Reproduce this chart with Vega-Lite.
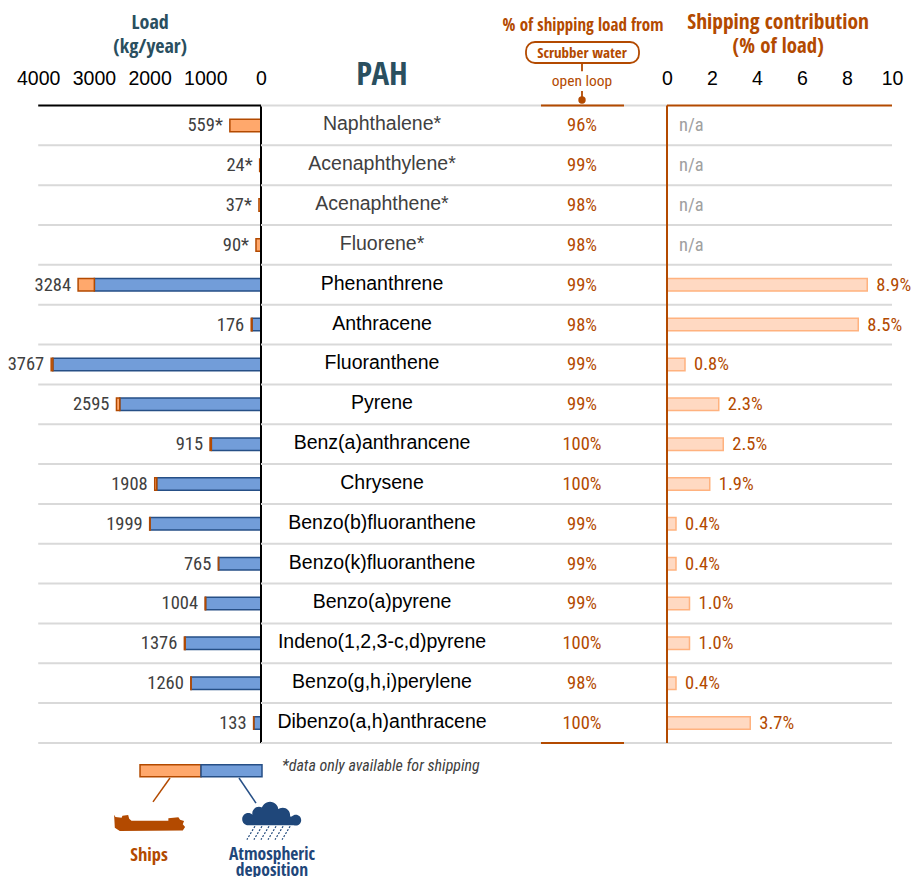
{
"$schema":"https://vega.github.io/schema/vega-lite/v6.json",
"padding":0,"spacing":0,"bounds":"flush","background":"white",
"config":{"view":{"stroke":null},"concat":{"spacing":0}},
"datasets":{
"rows":[
{"row":0,"name":"Naphthalene*","total":559,"atmos":0,"label":"559*","scrubber":"96%"},
{"row":1,"name":"Acenaphthylene*","total":24,"atmos":0,"label":"24*","scrubber":"99%"},
{"row":2,"name":"Acenaphthene*","total":37,"atmos":0,"label":"37*","scrubber":"98%"},
{"row":3,"name":"Fluorene*","total":90,"atmos":0,"label":"90*","scrubber":"98%"},
{"row":4,"name":"Phenanthrene","total":3284,"atmos":2992,"label":"3284","scrubber":"99%","contrib":8.9,"contribLabel":"8.9%"},
{"row":5,"name":"Anthracene","total":176,"atmos":161,"label":"176","scrubber":"98%","contrib":8.5,"contribLabel":"8.5%"},
{"row":6,"name":"Fluoranthene","total":3767,"atmos":3737,"label":"3767","scrubber":"99%","contrib":0.8,"contribLabel":"0.8%"},
{"row":7,"name":"Pyrene","total":2595,"atmos":2535,"label":"2595","scrubber":"99%","contrib":2.3,"contribLabel":"2.3%"},
{"row":8,"name":"Benz(a)anthrancene","total":915,"atmos":892,"label":"915","scrubber":"100%","contrib":2.5,"contribLabel":"2.5%"},
{"row":9,"name":"Chrysene","total":1908,"atmos":1872,"label":"1908","scrubber":"100%","contrib":1.9,"contribLabel":"1.9%"},
{"row":10,"name":"Benzo(b)fluoranthene","total":1999,"atmos":1991,"label":"1999","scrubber":"99%","contrib":0.4,"contribLabel":"0.4%"},
{"row":11,"name":"Benzo(k)fluoranthene","total":765,"atmos":762,"label":"765","scrubber":"99%","contrib":0.4,"contribLabel":"0.4%"},
{"row":12,"name":"Benzo(a)pyrene","total":1004,"atmos":994,"label":"1004","scrubber":"99%","contrib":1.0,"contribLabel":"1.0%"},
{"row":13,"name":"Indeno(1,2,3-c,d)pyrene","total":1376,"atmos":1362,"label":"1376","scrubber":"100%","contrib":1.0,"contribLabel":"1.0%"},
{"row":14,"name":"Benzo(g,h,i)perylene","total":1260,"atmos":1255,"label":"1260","scrubber":"98%","contrib":0.4,"contribLabel":"0.4%"},
{"row":15,"name":"Dibenzo(a,h)anthracene","total":133,"atmos":128,"label":"133","scrubber":"100%","contrib":3.7,"contribLabel":"3.7%"}
],
"grid":[{"line":0.5},{"line":1.5},{"line":2.5},{"line":3.5},{"line":4.5},{"line":5.5},{"line":6.5},{"line":7.5},{"line":8.5},{"line":9.5},{"line":10.5},{"line":11.5},{"line":12.5},{"line":13.5},{"line":14.5},{"line":15.5}]
},
"hconcat":[
{
"width":261,"height":877,
"layer":[
{"data":{"name":"grid"},"mark":{"type":"rule","color":"#d9d9d9","strokeWidth":2},
 "encoding":{"y":{"field":"line","type":"quantitative","scale":{"domain":[-3.148,18.865],"reverse":true,"nice":false,"zero":false,"padding":0},"axis":null},
 "x":{"datum":4000,"type":"quantitative","scale":{"domain":[4686,0],"nice":false,"zero":false,"padding":0},
   "axis":{"orient":"top","offset":-105.5,"values":[0,1000,2000,3000,4000],"format":"d","domain":false,"ticks":false,"grid":false,"title":null,"labelFont":"Liberation Sans","labelFontSize":19.5,"labelColor":"#000000","labelPadding":17,"labelOverlap":false,"labelFlush":false,"labelAngle":0}},
 "x2":{"datum":0}}},
{"data":{"name":"rows"},"transform":[{"filter":"datum.atmos>0"}],"mark":{"type":"bar","orient":"horizontal","size":12.5,"color":"#729dd9","stroke":"#264f86","strokeWidth":1.5},
 "encoding":{"y":{"field":"row","type":"quantitative"},"x":{"field":"atmos","type":"quantitative"},"x2":{"datum":0}}},
{"data":{"name":"rows"},"mark":{"type":"bar","orient":"horizontal","size":12.5,"color":"#ffa86c","stroke":"#b34a00","strokeWidth":1.5},
 "encoding":{"y":{"field":"row","type":"quantitative"},"x":{"field":"total","type":"quantitative"},"x2":{"field":"atmos"}}},
{"data":{"name":"rows"},"mark":{"type":"text","align":"right","baseline":"middle","dx":-7,"font":"Roboto Condensed","fontSize":18.5,"color":"#404040"},
 "encoding":{"y":{"field":"row","type":"quantitative"},"x":{"field":"total","type":"quantitative"},"text":{"field":"label"}}},
{"data":{"values":[{"a":4000,"b":0,"r":-0.5,"r2":-0.5},{"a":0,"b":0,"r":-0.5,"r2":15.5}]},"mark":{"type":"rule","color":"#000000","strokeWidth":2},
 "encoding":{"y":{"field":"r","type":"quantitative"},"y2":{"field":"r2"},"x":{"field":"a","type":"quantitative"},"x2":{"field":"b"}}},
{"data":{"values":[{"t":"Load","x":1990,"r":-2.571},{"t":"(kg/year)","x":1990,"r":-1.968}]},"mark":{"type":"text","align":"center","baseline":"middle","font":"Open Sans Condensed","fontWeight":"bold","fontSize":20,"color":"#2a4f5f"},
 "encoding":{"y":{"field":"r","type":"quantitative"},"x":{"field":"x","type":"quantitative"},"text":{"field":"t"}}},
{"data":{"values":[{"x":2172,"x2":1077,"r":16.2}]},"mark":{"type":"bar","orient":"horizontal","size":12,"color":"#ffa86c","stroke":"#b34a00","strokeWidth":1.5},
 "encoding":{"y":{"field":"r","type":"quantitative"},"x":{"field":"x","type":"quantitative"},"x2":{"field":"x2"}}},
{"data":{"values":[{"x":1077,"x2":-18,"r":16.2}]},"mark":{"type":"bar","orient":"horizontal","size":12,"color":"#729dd9","stroke":"#264f86","strokeWidth":1.5},
 "encoding":{"y":{"field":"r","type":"quantitative"},"x":{"field":"x","type":"quantitative"},"x2":{"field":"x2"}}},
{"data":{"values":[{"x":1634,"x2":1939,"r":16.38,"r2":16.98}]},"mark":{"type":"rule","color":"#b34a00","strokeWidth":1.5},
 "encoding":{"y":{"field":"r","type":"quantitative"},"y2":{"field":"r2"},"x":{"field":"x","type":"quantitative"},"x2":{"field":"x2"}}},
{"data":{"values":[{"x":395,"x2":90,"r":16.38,"r2":17.01}]},"mark":{"type":"rule","color":"#264f86","strokeWidth":1.5},
 "encoding":{"y":{"field":"r","type":"quantitative"},"y2":{"field":"r2"},"x":{"field":"x","type":"quantitative"},"x2":{"field":"x2"}}},
{"data":{"values":[{"x":2000,"r":17.51}]},"mark":{"type":"point","filled":true,"opacity":1,"color":"#b34a00","size":5041,"shape":"M-1 -.236L-.962 -.17L-.79 -.15L-.764 -.208L-.604 -.226L-.575 -.123L-.51 -.066L.528 -.066L.528 -.132L.811 -.16L.858 -.094L.97 -.057L.934 .038L1 .113L.934 .208L-.84 .226L-.98 .132Z"},
 "encoding":{"y":{"field":"r","type":"quantitative"},"x":{"field":"x","type":"quantitative"}}},
{"data":{"values":[{"x":-192,"r":17.27}]},"mark":{"type":"point","filled":true,"opacity":1,"color":"#1f477a","size":3481,"shape":"M-1 .193a.205 .205 0 1 1 .41 0a.205 .205 0 1 1 -.41 0ZM-.659 0a.227 .227 0 1 1 .454 0a.227 .227 0 1 1 -.454 0ZM-.341 -.114a.284 .284 0 1 1 .568 0a.284 .284 0 1 1 -.568 0ZM.125 .057a.25 .25 0 1 1 .5 0a.25 .25 0 1 1 -.5 0ZM.636 .227a.182 .182 0 1 1 .364 0a.182 .182 0 1 1 -.364 0ZM-.795 .1H.818V.4H-.795Z"},
 "encoding":{"y":{"field":"r","type":"quantitative"},"x":{"field":"x","type":"quantitative"}}},
{"data":{"values":[{"x":-192,"r":17.27}]},"mark":{"type":"point","filled":false,"opacity":1,"color":"#1f477a","strokeWidth":1.2,"strokeDash":[2,1.5],"size":3481,"shape":"M-.568 .432L-.841 .886M-.33 .432L-.603 .886M-.091 .432L-.364 .886M.148 .432L-.125 .886M.386 .432L.113 .886M.625 .432L.352 .886"},
 "encoding":{"y":{"field":"r","type":"quantitative"},"x":{"field":"x","type":"quantitative"}}},
{"data":{"values":[{"t":"Ships","x":2010,"r":18.31}]},"mark":{"type":"text","align":"center","baseline":"middle","font":"Open Sans Condensed","fontWeight":"bold","fontSize":18.5,"color":"#b34a00"},
 "encoding":{"y":{"field":"r","type":"quantitative"},"x":{"field":"x","type":"quantitative"},"text":{"field":"t"}}},
{"data":{"values":[{"t":"Atmospheric","x":-197,"r":18.31},{"t":"deposition","x":-197,"r":18.72}]},"mark":{"type":"text","align":"center","baseline":"middle","font":"Open Sans Condensed","fontWeight":"bold","fontSize":17.5,"color":"#1f477a"},
 "encoding":{"y":{"field":"r","type":"quantitative"},"x":{"field":"x","type":"quantitative"},"text":{"field":"t"}}}
]
},
{
"width":406,"height":877,
"layer":[
{"data":{"values":[{"line":-0.5},{"line":0.5},{"line":1.5},{"line":2.5},{"line":3.5},{"line":4.5},{"line":5.5},{"line":6.5},{"line":7.5},{"line":8.5},{"line":9.5},{"line":10.5},{"line":11.5},{"line":12.5},{"line":13.5},{"line":14.5},{"line":15.5}]},"mark":{"type":"rule","color":"#d9d9d9","strokeWidth":2},
 "encoding":{"y":{"field":"line","type":"quantitative","scale":{"domain":[-3.148,18.865],"reverse":true,"nice":false,"zero":false,"padding":0},"axis":null},
 "x":{"datum":0.395,"type":"quantitative","scale":{"domain":[0.395,2.425],"nice":false,"zero":false,"padding":0},"axis":null},"x2":{"datum":2.425}}},
{"data":{"values":[{"a":1.795,"b":2.21,"r":-0.5},{"a":1.795,"b":2.21,"r":15.5}]},"mark":{"type":"rule","color":"#b34a00","strokeWidth":2},
 "encoding":{"y":{"field":"r","type":"quantitative"},"x":{"field":"a","type":"quantitative"},"x2":{"field":"b"}}},
{"data":{"name":"rows"},"mark":{"type":"text","align":"center","baseline":"middle","dy":-1,"font":"Liberation Sans","fontSize":19.5},
 "encoding":{"y":{"field":"row","type":"quantitative"},"x":{"datum":1,"type":"quantitative"},"text":{"field":"name"},
 "color":{"condition":{"test":"datum.atmos==0","value":"#404040"},"value":"#000000"}}},
{"data":{"name":"rows"},"mark":{"type":"text","align":"center","baseline":"middle","font":"Roboto Condensed","fontSize":18.5,"color":"#b34a00"},
 "encoding":{"y":{"field":"row","type":"quantitative"},"x":{"datum":2,"type":"quantitative"},"text":{"field":"scrubber"}}},
{"data":{"values":[{"t":"PAH"}]},"mark":{"type":"text","align":"center","baseline":"middle","font":"Open Sans Condensed","fontWeight":"bold","fontSize":33,"color":"#2a4f5f"},
 "encoding":{"y":{"datum":-1.26,"type":"quantitative"},"x":{"datum":1,"type":"quantitative"},"text":{"field":"t"}}},
{"data":{"values":[{"t":"% of shipping load from"}]},"mark":{"type":"text","align":"center","baseline":"middle","font":"Open Sans Condensed","fontWeight":"bold","fontSize":17,"color":"#b34a00"},
 "encoding":{"y":{"datum":-2.495,"type":"quantitative"},"x":{"datum":2.005,"type":"quantitative"},"text":{"field":"t"}}},
{"data":{"values":[{"t":"open loop"}]},"mark":{"type":"text","align":"center","baseline":"middle","font":"Roboto Condensed","fontSize":15.5,"color":"#b34a00"},
 "encoding":{"y":{"datum":-1.115,"type":"quantitative"},"x":{"datum":2,"type":"quantitative"},"text":{"field":"t"}}},
{"data":{"values":[{"a":1.72,"b":2.285,"r":-2.094,"r2":-1.567}]},"mark":{"type":"rect","fill":"#ffffff","stroke":"#b34a00","strokeWidth":1.8,"cornerRadius":9},
 "encoding":{"y":{"field":"r","type":"quantitative"},"y2":{"field":"r2"},"x":{"field":"a","type":"quantitative"},"x2":{"field":"b"}}},
{"data":{"values":[{"t":"Scrubber water"}]},"mark":{"type":"text","align":"center","baseline":"middle","font":"Open Sans Condensed","fontWeight":"bold","fontSize":15,"color":"#b34a00"},
 "encoding":{"y":{"datum":-1.83,"type":"quantitative"},"x":{"datum":2,"type":"quantitative"},"text":{"field":"t"}}},
{"data":{"values":[{"a":2,"r":-1.567,"r2":-1.36},{"a":2,"r":-0.864,"r2":-0.638}]},"mark":{"type":"rule","color":"#b34a00","strokeWidth":1.8},
 "encoding":{"y":{"field":"r","type":"quantitative"},"y2":{"field":"r2"},"x":{"field":"a","type":"quantitative"}}},
{"data":{"values":[{"a":2,"r":-0.638}]},"mark":{"type":"point","filled":true,"opacity":1,"color":"#b34a00","size":55},
 "encoding":{"y":{"field":"r","type":"quantitative"},"x":{"field":"a","type":"quantitative"}}},
{"data":{"values":[{"t":"*data only available for shipping"}]},"mark":{"type":"text","align":"left","baseline":"middle","font":"Roboto Condensed","fontStyle":"italic","fontSize":16,"color":"#404040"},
 "encoding":{"y":{"datum":16.07,"type":"quantitative"},"x":{"datum":0.5,"type":"quantitative"},"text":{"field":"t"}}}
]
},
{
"width":245,"height":877,
"layer":[
{"data":{"name":"grid"},"mark":{"type":"rule","color":"#d9d9d9","strokeWidth":2},
 "encoding":{"y":{"field":"line","type":"quantitative","scale":{"domain":[-3.148,18.865],"reverse":true,"nice":false,"zero":false,"padding":0},"axis":null},
 "x":{"datum":0,"type":"quantitative","scale":{"domain":[0,10.889],"nice":false,"zero":false,"padding":0},
   "axis":{"orient":"top","offset":-105.5,"values":[0,2,4,6,8,10],"format":"d","domain":false,"ticks":false,"grid":false,"title":null,"labelFont":"Liberation Sans","labelFontSize":19.5,"labelColor":"#000000","labelPadding":17,"labelOverlap":false,"labelFlush":false,"labelAngle":0}},
 "x2":{"datum":10}}},
{"data":{"name":"rows"},"transform":[{"filter":"isValid(datum.contrib)"}],"mark":{"type":"bar","orient":"horizontal","size":12.5,"color":"#ffd9c2","stroke":"#ffb27f","strokeWidth":1.5},
 "encoding":{"y":{"field":"row","type":"quantitative"},"x":{"field":"contrib","type":"quantitative"},"x2":{"datum":0}}},
{"data":{"name":"rows"},"transform":[{"filter":"isValid(datum.contrib)"}],"mark":{"type":"text","align":"left","baseline":"middle","dx":9,"font":"Roboto Condensed","fontSize":18.5,"color":"#b34a00"},
 "encoding":{"y":{"field":"row","type":"quantitative"},"x":{"field":"contrib","type":"quantitative"},"text":{"field":"contribLabel"}}},
{"data":{"values":[{"r":0,"t":"n/a"},{"r":1,"t":"n/a"},{"r":2,"t":"n/a"},{"r":3,"t":"n/a"}]},"mark":{"type":"text","align":"left","baseline":"middle","dx":12,"font":"Roboto Condensed","fontSize":18.5,"color":"#a0a0a0"},
 "encoding":{"y":{"field":"r","type":"quantitative"},"x":{"datum":0,"type":"quantitative"},"text":{"field":"t"}}},
{"data":{"values":[{"a":0,"b":10,"r":-0.5,"r2":-0.5},{"a":0,"b":0,"r":-0.5,"r2":15.5}]},"mark":{"type":"rule","color":"#b34a00","strokeWidth":2},
 "encoding":{"y":{"field":"r","type":"quantitative"},"y2":{"field":"r2"},"x":{"field":"a","type":"quantitative"},"x2":{"field":"b"}}},
{"data":{"values":[{"t":"Shipping contribution","r":-2.571}]},"mark":{"type":"text","align":"center","baseline":"middle","font":"Open Sans Condensed","fontWeight":"bold","fontSize":21.5,"color":"#b34a00"},
 "encoding":{"y":{"field":"r","type":"quantitative"},"x":{"datum":4.94,"type":"quantitative"},"text":{"field":"t"}}},
{"data":{"values":[{"t":"(% of load)","r":-1.968}]},"mark":{"type":"text","align":"center","baseline":"middle","font":"Open Sans Condensed","fontWeight":"bold","fontSize":20.8,"color":"#b34a00"},
 "encoding":{"y":{"field":"r","type":"quantitative"},"x":{"datum":4.94,"type":"quantitative"},"text":{"field":"t"}}}
]
}
]
}
